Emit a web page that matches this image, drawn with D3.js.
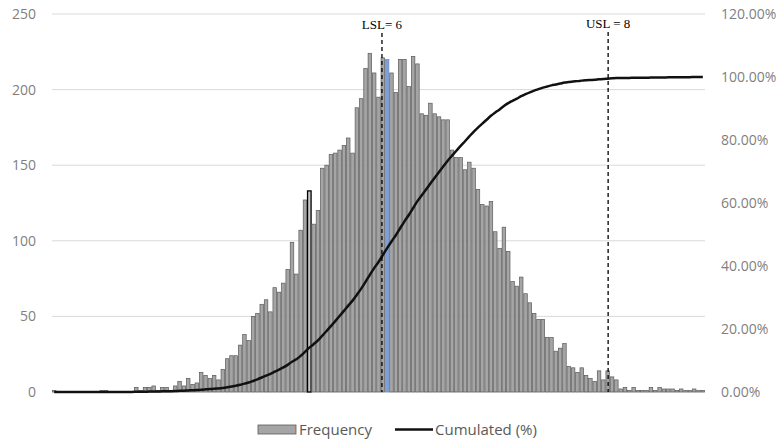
<!DOCTYPE html>
<html>
<head>
  <meta charset="UTF-8" />
  <title>Frequency histogram</title>
  <script src="https://d3js.org/d3.v7.min.js"></script>
  <style>
    body { margin: 0; background: #fff; }
    .tick-label { font-family: "Open Sans", sans-serif; font-size: 14px; fill: #7f7f7f; }
    .legend text { font-family: "Open Sans", sans-serif; font-size: 15px; fill: #595959; }
    .spec text { font-family: "Liberation Serif", serif; font-size: 13px; fill: #000; }
  </style>
</head>
<body>
<svg id="chart" width="783" height="439"></svg>
<script>
  // bin counts (150 bins)
  const frequency = [
    1, 0, 0, 0, 0, 0, 0, 0, 0, 0, 0, 1, 1, 0, 0, 0, 0, 0, 0,
    3, 1, 3, 3, 4, 1, 3, 3, 1, 4,
    7, 4, 9, 5, 6, 13, 11, 9, 11, 8,
    15, 22, 24, 24, 31, 38, 34, 50, 52, 58,
    61, 53, 69, 66, 72, 81, 99, 78, 107, 127,
    133, 111, 120, 148, 150, 157, 158, 160, 163, 168,
    158, 188, 194, 214, 224, 211, 195, 221, 220, 211,
    198, 220, 220, 202, 222, 217, 184, 183, 191, 184,
    182, 180, 180, 160, 155, 155, 147, 152, 148, 134,
    124, 123, 126, 106, 95, 109, 93, 73, 70, 76,
    65, 59, 52, 48, 48, 36, 36, 27, 29, 32,
    17, 16, 13, 16, 11, 9, 7, 14, 8, 14,
    10, 8, 2, 3, 1, 3, 1, 1, 1, 3,
    1, 3, 2, 2, 2, 1, 2, 1, 1, 2,
    1, 1
  ];
  const highlightBlue = 77;     // bin drawn in blue
  const highlightOutline = 59;  // bin drawn with a black outline
  const leftTicks = [0, 50, 100, 150, 200, 250];
  const rightTicks = [0, 0.2, 0.4, 0.6, 0.8, 1.0, 1.2];
  // spec limits, given as position along the bins
  const specLimits = [
    { label: "LSL= 6", bin: 76.3, labelY: 29 },
    { label: "USL = 8", bin: 128.6, labelY: 28 }
  ];

  const svg = d3.select("#chart");
  const plotL = 52, plotR = 705, plotT = 14, plotB = 392;

  const x = d3.scaleBand().domain(d3.range(frequency.length)).range([plotL, plotR]).padding(0);
  const binPos = d3.scaleLinear().domain([0, frequency.length]).range([plotL, plotR]);
  const y = d3.scaleLinear().domain([0, 250]).range([plotB, plotT]);
  const y2 = d3.scaleLinear().domain([0, 1.2]).range([plotB, plotT]);

  // gridlines
  svg.append("g").selectAll("line").data(leftTicks).enter().append("line")
    .attr("x1", plotL).attr("x2", plotR)
    .attr("y1", d => y(d)).attr("y2", d => y(d))
    .attr("stroke", "#d9d9d9").attr("stroke-width", 1);

  // left axis
  const yAxis = svg.append("g").attr("transform", `translate(${plotL - 16},0)`)
    .call(d3.axisLeft(y).tickValues(leftTicks).tickSize(0).tickPadding(0));
  yAxis.select(".domain").remove();
  yAxis.selectAll("text").attr("class", "tick-label").attr("fill", null);

  // right axis
  const y2Axis = svg.append("g").attr("transform", `translate(${plotR + 16},0)`)
    .call(d3.axisRight(y2).tickValues(rightTicks).tickSize(0).tickPadding(0)
      .tickFormat(d => (d * 100).toFixed(2) + "%"));
  y2Axis.select(".domain").remove();
  y2Axis.selectAll("text").attr("class", "tick-label").attr("fill", null);

  // bars
  const bw = x.bandwidth();
  svg.append("g").selectAll("rect").data(frequency).enter().append("rect")
    .attr("x", (d, i) => x(i) + 0.4)
    .attr("width", bw - 0.8)
    .attr("y", d => y(d))
    .attr("height", d => plotB - y(d))
    .attr("fill", (d, i) => i === highlightBlue ? "#7f9fd8" : (i === highlightOutline ? "#c8c8c8" : "#a5a5a5"))
    .attr("stroke", (d, i) => i === highlightOutline ? "#000" : (i === highlightBlue ? "#6f8fc8" : "#5a5a5a"))
    .attr("stroke-width", (d, i) => i === highlightOutline ? 1.3 : 0.7);

  // cumulated %
  const total = d3.sum(frequency);
  const cum = d3.cumsum(frequency).map(v => v / total);
  const line = d3.line()
    .x((d, i) => x(i) + bw / 2)
    .y(d => y2(d))
    .curve(d3.curveMonotoneX);
  svg.append("path").datum(Array.from(cum))
    .attr("d", line)
    .attr("fill", "none")
    .attr("stroke", "#111")
    .attr("stroke-width", 2.5);

  // spec limit lines
  const spec = svg.append("g").attr("class", "spec");
  spec.selectAll("line").data(specLimits).enter().append("line")
    .attr("x1", d => binPos(d.bin)).attr("x2", d => binPos(d.bin))
    .attr("y1", d => d.labelY + 4).attr("y2", plotB)
    .attr("stroke", "#000").attr("stroke-width", 1.3)
    .attr("stroke-dasharray", "4,3");
  spec.selectAll("text").data(specLimits).enter().append("text")
    .attr("x", d => binPos(d.bin)).attr("y", d => d.labelY)
    .attr("text-anchor", "middle")
    .text(d => d.label);

  // legend
  const legend = svg.append("g").attr("class", "legend");
  legend.append("rect").attr("x", 258).attr("y", 425).attr("width", 38).attr("height", 9)
    .attr("fill", "#a5a5a5").attr("stroke", "#5a5a5a").attr("stroke-width", 0.8);
  legend.append("text").attr("x", 299).attr("y", 435).text("Frequency");
  legend.append("line").attr("x1", 395).attr("x2", 433).attr("y1", 429.5).attr("y2", 429.5)
    .attr("stroke", "#111").attr("stroke-width", 2.5);
  legend.append("text").attr("x", 435).attr("y", 435).text("Cumulated (%)");
</script>
</body>
</html>
